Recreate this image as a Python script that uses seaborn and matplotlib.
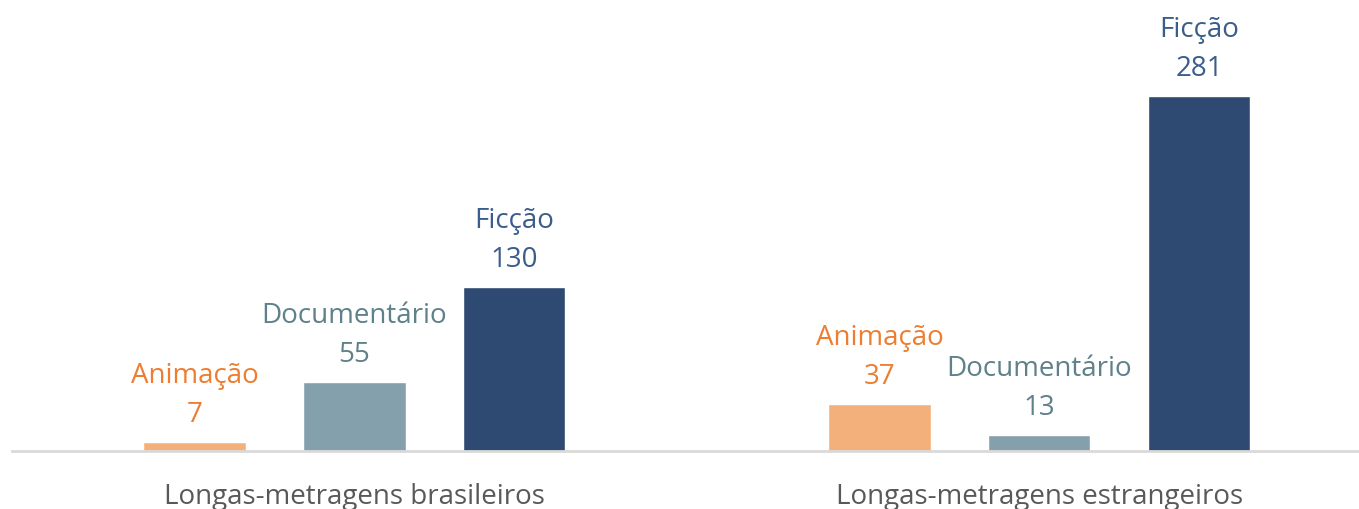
import pandas as pd
import seaborn as sns
import matplotlib.pyplot as plt

# chart data
groups = ['Longas-metragens brasileiros', 'Longas-metragens estrangeiros']
genres = ['Animação', 'Documentário', 'Ficção']
brasileiros = [7, 55, 130]
estrangeiros = [37, 13, 281]

bar_colors = ['#F4B07A', '#84A0AC', '#2E4A72']
text_colors = ['#ED7D31', '#5F8189', '#3A5D8C']

df = pd.DataFrame({
    'grupo': [groups[0]] * 3 + [groups[1]] * 3,
    'genero': genres * 2,
    'valor': brasileiros + estrangeiros,
})

sns.set_theme(style='white')
plt.rcParams['font.family'] = ['Open Sans', 'DejaVu Sans']

fig = plt.figure(figsize=(13.59, 5.09), dpi=100)
ax = fig.add_axes([12 / 1359, 58 / 509, 1 - 12 / 1359, 451 / 509])

sns.barplot(data=df, x='grupo', y='valor', hue='genero', hue_order=genres,
            palette=bar_colors, width=0.7, gap=0.36, saturation=1,
            legend=False, ax=ax)

# labels above each bar: genre name and value
for container, name, color in zip(ax.containers, genres, text_colors):
    for bar, val in zip(container, container.datavalues):
        cx = bar.get_x() + bar.get_width() / 2
        top = bar.get_height()
        ax.annotate(f'{int(val)}', (cx, top), xytext=(0, 20),
                    textcoords='offset pixels', ha='center', va='baseline',
                    fontsize=20, color=color)
        ax.annotate(name, (cx, top), xytext=(0, 59),
                    textcoords='offset pixels', ha='center', va='baseline',
                    fontsize=20, color=color)

ax.set_xlim(-0.5, 1.467)
ax.set_ylim(0, 357)
ax.set_xlabel('')
ax.set_ylabel('')
ax.set_yticks([])
ax.tick_params(axis='x', length=0, pad=23, labelsize=20, labelcolor='#595959')
for side in ['top', 'right', 'left']:
    ax.spines[side].set_visible(False)
ax.spines['bottom'].set_color('#D9D9D9')
ax.spines['bottom'].set_linewidth(2)

fig.savefig('out.png', dpi=100)
